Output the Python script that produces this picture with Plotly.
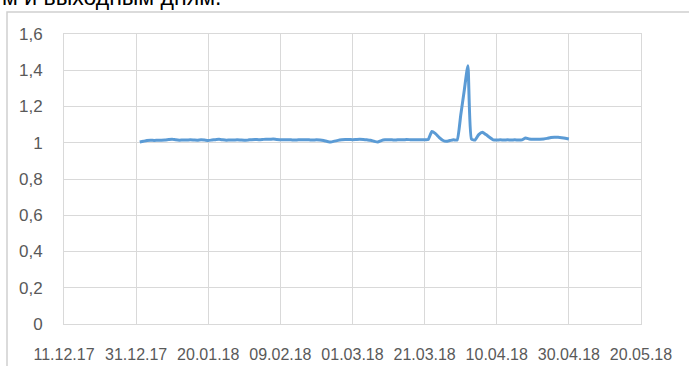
import pandas as pd
import plotly.graph_objects as go

# Daily ratio values, 01.01.18 .. 30.04.18
dates = pd.date_range("2018-01-01", "2018-04-30", freq="D")
values = [
    1.004, 1.008, 1.012, 1.014, 1.013, 1.014, 1.014, 1.015, 1.018, 1.020,
    1.016, 1.014, 1.015, 1.015, 1.016, 1.015, 1.014, 1.016, 1.015, 1.013,
    1.015, 1.017, 1.019, 1.016, 1.014, 1.015, 1.015, 1.016, 1.015, 1.014,
    1.015, 1.017, 1.018, 1.017, 1.018, 1.020, 1.019, 1.021, 1.018, 1.017,
    1.016, 1.017, 1.016, 1.015, 1.016, 1.016, 1.017, 1.016, 1.015, 1.016,
    1.015, 1.012, 1.007, 1.004, 1.009, 1.013, 1.016, 1.018, 1.018, 1.017,
    1.018, 1.019, 1.018, 1.016, 1.014, 1.008, 1.004, 1.012, 1.016, 1.017,
    1.016, 1.015, 1.017, 1.016, 1.018, 1.017, 1.016, 1.017, 1.016, 1.017,
    1.018, 1.062, 1.050, 1.030, 1.014, 1.008, 1.012, 1.016, 1.015, 1.150,
    1.290, 1.425, 1.020, 1.015, 1.045, 1.058, 1.045, 1.030, 1.016, 1.015,
    1.016, 1.015, 1.016, 1.015, 1.016, 1.015, 1.016, 1.026, 1.021, 1.019,
    1.020, 1.020, 1.021, 1.024, 1.029, 1.030, 1.030, 1.028, 1.025, 1.021,
]

x_tick_dates = ["2017-12-11", "2017-12-31", "2018-01-20", "2018-02-09", "2018-03-01",
                "2018-03-21", "2018-04-10", "2018-04-30", "2018-05-20"]
x_tick_labels = ["11.12.17", "31.12.17", "20.01.18", "09.02.18", "01.03.18",
                 "21.03.18", "10.04.18", "30.04.18", "20.05.18"]
y_tick_vals = [0, 0.2, 0.4, 0.6, 0.8, 1.0, 1.2, 1.4, 1.6]
y_tick_labels = ["0", "0,2", "0,4", "0,6", "0,8", "1", "1,2", "1,4", "1,6"]

title_text = "м и выходным дням."

W, H = 689, 366
ML, MR, MT, MB = 64, 48, 34, 42
pw, ph = W - ML - MR, H - MT - MB


def px_x(p):
    return (p - ML) / pw


def px_y(p):
    return (H - MB - p) / ph


grid = "#D9D9D9"
x_font = dict(family="Liberation Sans, Arial, sans-serif", size=16, color="#595959")
y_font = dict(family="Liberation Sans, Arial, sans-serif", size=17, color="#595959")

fig = go.Figure()
fig.add_trace(go.Scatter(
    x=dates, y=values, mode="lines",
    line=dict(color="#5B9BD5", width=3, shape="spline", smoothing=0.5),
    showlegend=False, hoverinfo="skip",
))

fig.update_layout(
    width=W, height=H,
    margin=dict(l=ML, r=MR, t=MT, b=MB, pad=0),
    paper_bgcolor="white", plot_bgcolor="white",
    xaxis=dict(
        type="date", range=["2017-12-11", "2018-05-20"], automargin=False,
        tickmode="array", tickvals=x_tick_dates, ticktext=x_tick_labels,
        showgrid=True, gridcolor=grid, gridwidth=1,
        showline=True, linecolor=grid, linewidth=1, mirror=True,
        ticks="", ticklabelstandoff=16, tickfont=x_font, zeroline=False,
    ),
    yaxis=dict(
        range=[0, 1.6], automargin=False,
        tickmode="array", tickvals=y_tick_vals, ticktext=y_tick_labels,
        showgrid=True, gridcolor=grid, gridwidth=1,
        showline=True, linecolor=grid, linewidth=1, mirror=True,
        ticks="", ticklabelstandoff=17, tickfont=y_font, zeroline=False,
    ),
)

# chart frame
fig.add_shape(type="rect", xref="paper", yref="paper",
              x0=px_x(7), y0=px_y(H + 10), x1=px_x(W + 10), y1=px_y(12),
              line=dict(color="#D0D0D0", width=1.5), fillcolor="rgba(0,0,0,0)",
              layer="below")

# heading text above the frame
fig.add_annotation(text=title_text, xref="paper", yref="paper",
                   x=px_x(0), y=px_y(12), xanchor="left", yanchor="bottom",
                   showarrow=False,
                   font=dict(family="Liberation Sans, Arial, sans-serif", size=23, color="#000000"))

fig.write_html("out.html")
